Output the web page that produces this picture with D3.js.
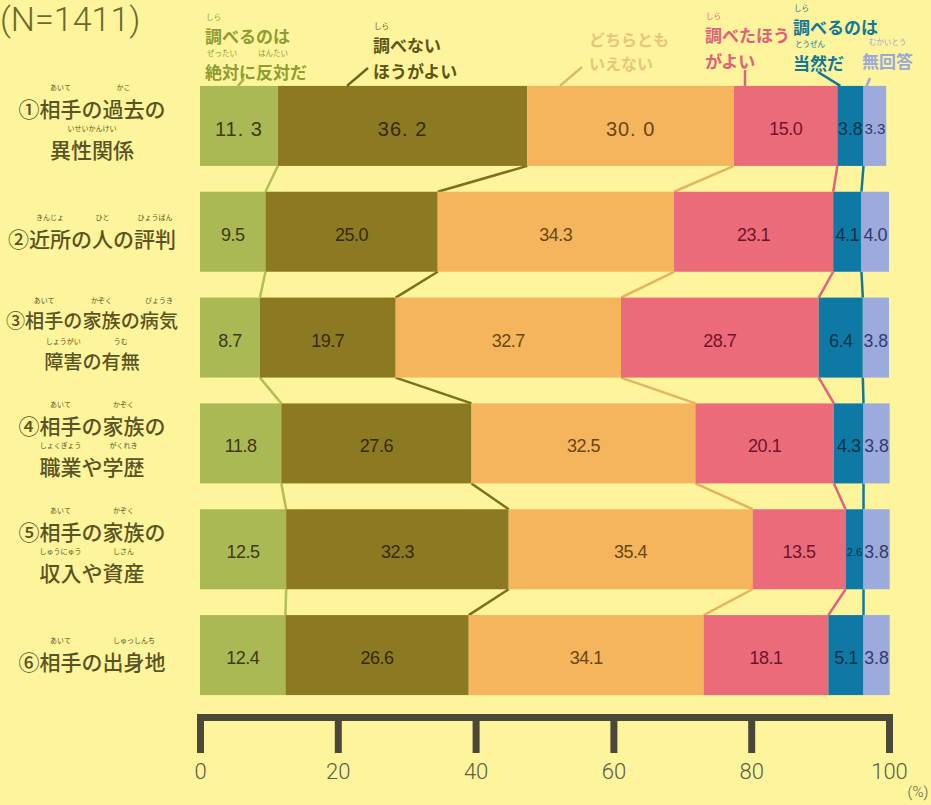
<!DOCTYPE html>
<html><head><meta charset="utf-8">
<script src="https://cdn.jsdelivr.net/npm/d3@7"></script>
<style>
html,body{margin:0;padding:0;background:#fdf49c;}
svg{display:block;}
</style></head><body>
<svg id="chart" width="931" height="805"></svg>
<script>
// ---------- DATA ----------
const sampleLabel = "(N=1411)";
const unitLabel = "(%)";
// {漢字|ふりがな} marks ruby text; \n marks a line break
const categories = [
  "①{相手|あいて}の{過去|かこ}の\n{異性関係|いせいかんけい}",
  "②{近所|きんじょ}の{人|ひと}の{評判|ひょうばん}",
  "③{相手|あいて}の{家族|かぞく}の{病気|びょうき}\n{障害|しょうがい}の{有無|うむ}",
  "④{相手|あいて}の{家族|かぞく}の\n{職業|しょくぎょう}や{学歴|がくれき}",
  "⑤{相手|あいて}の{家族|かぞく}の\n{収入|しゅうにゅう}や{資産|しさん}",
  "⑥{相手|あいて}の{出身地|しゅっしんち}"
];
const seriesNames = [
  "{調|しら}べるのは\n{絶対|ぜったい}に{反対|はんたい}だ",
  "{調|しら}べない\nほうがよい",
  "どちらとも\nいえない",
  "{調|しら}べたほう\nがよい",
  "{調|しら}べるのは\n{当然|とうぜん}だ",
  "{無回答|むかいとう}"
];
const absolutelyAgainst = [11.3, 9.5, 8.7, 11.8, 12.5, 12.4];
const betterNot        = [36.2, 25.0, 19.7, 27.6, 32.3, 26.6];
const cannotSay        = [30.0, 34.3, 32.7, 32.5, 35.4, 34.1];
const betterCheck      = [15.0, 23.1, 28.7, 20.1, 13.5, 18.1];
const naturalCheck     = [3.8, 4.1, 6.4, 4.3, 2.6, 5.1];
const noAnswer         = [3.3, 4.0, 3.8, 3.8, 3.8, 3.8];
const tickValues = [0, 20, 40, 60, 80, 100];

// ---------- STYLE / LAYOUT ----------
const segColors   = ["#abb955", "#8b7a22", "#f4b55c", "#eb6b7a", "#0f79a5", "#9caadc"];
const linkColors  = ["#b2bd5c", "#7f6f1c", "#e6b45f", "#e2637a", "#137898"];
const valueColors = ["#3d3a12", "#352b08", "#6b4512", "#6e1529", "#0b3449", "#2f3c70"];
const legendColors= ["#8f9c32", "#5d5616", "#e8c47c", "#e0617a", "#137897", "#9aa9d8"];
const leaderColors= ["#a9b652", "#6e6418", "#dcb86c", "#e0617a", "#137897", "#9aa9d8"];
const legendLayout = [
  {x: 205, y: 35, fs: 17, lx: 244, ly: 79, bx: 238},
  {x: 373, y: 44, fs: 17, lx: 368, ly: 68, bx: 347},
  {x: 589, y: 39, fs: 16, lx: 582, ly: 67, bx: 560},
  {x: 705, y: 34, fs: 17, lx: 745, ly: 70, bx: 745},
  {x: 793, y: 26, fs: 17, lx: 818, ly: 72, bx: 818},
  {x: 862, y: 60, fs: 17, lx: 870, ly: 78, bx: 862}
];
const JP = "'Noto Sans CJK JP', 'Noto Sans', sans-serif";
const NUM = "'Liberation Sans', Arial, sans-serif";

// ---------- BUILD ----------
const keys = ["a","b","c","d","e","f"];
const seriesArrays = [absolutelyAgainst, betterNot, cannotSay, betterCheck, naturalCheck, noAnswer];
const table = categories.map((c, i) => {
  const o = {cat: c, idx: i};
  keys.forEach((k, j) => o[k] = seriesArrays[j][i]);
  return o;
});
const stacked = d3.stack().keys(keys)(table);

const svg = d3.select("#chart");
svg.append("rect").attr("width", 931).attr("height", 805).attr("fill", "#fdf49c");

const x = d3.scaleLinear().domain([0, 100]).range([200, 889]);
const y = d3.scaleBand().domain(d3.range(categories.length)).range([73, 708])
  .paddingInner(0.244).paddingOuter(0.122);
const bw = y.bandwidth();

// ruby helpers: one <text> block per label, ruby as positioned tspans
function parseRuby(line) {
  const parts = []; const re = /\{([^|}]+)\|([^}]+)\}|([^{]+)/g; let m;
  while ((m = re.exec(line))) {
    if (m[3]) parts.push({t: m[3], r: null}); else parts.push({t: m[1], r: m[2]});
  }
  return parts;
}
function plainLen(line) { return parseRuby(line).reduce((s, p) => s + p.t.length, 0); }
function drawRubyBlock(g, lines, cx, centers, o) {
  const t = g.append("text")
    .attr("text-anchor", o.anchor).attr("dominant-baseline", "central")
    .attr("font-family", JP).attr("font-size", o.fs).attr("font-weight", o.fw || 500)
    .attr("fill", o.color);
  const rubies = [];
  let idx = 0;
  lines.forEach((ln, j) => {
    parseRuby(ln).forEach((p, q) => {
      const ts = t.append("tspan").text(p.t);
      if (q === 0) ts.attr("x", cx).attr("y", centers[j]);
      if (p.r) rubies.push({i0: idx, i1: idx + p.t.length - 1, r: p.r, cy: centers[j]});
      idx += p.t.length;
    });
  });
  const node = t.node();
  const pos = rubies.map(r => {
    try {
      return (node.getStartPositionOfChar(r.i0).x + node.getEndPositionOfChar(r.i1).x) / 2;
    } catch (e) { return null; }
  });
  rubies.forEach((r, k) => {
    if (pos[k] == null) return;
    t.append("tspan").attr("x", pos[k]).attr("y", r.cy - o.fs * o.ro)
      .attr("text-anchor", "middle").attr("font-size", o.rs).attr("font-weight", 400)
      .text(r.r);
  });
  return t;
}

// connecting lines between rows
const linkG = svg.append("g");
for (let k = 0; k < keys.length - 1; k++) {
  for (let i = 0; i < categories.length - 1; i++) {
    linkG.append("line")
      .attr("x1", x(stacked[k][i][1])).attr("y1", y(i) + bw)
      .attr("x2", x(stacked[k][i + 1][1])).attr("y2", y(i + 1))
      .attr("stroke", linkColors[k]).attr("stroke-width", 2.5);
  }
}

// bars
const barG = svg.append("g");
stacked.forEach((s, k) => {
  barG.selectAll(null).data(s).join("rect")
    .attr("x", d => x(d[0])).attr("y", (d, i) => y(i))
    .attr("width", d => x(d[1]) - x(d[0])).attr("height", bw)
    .attr("fill", segColors[k]);
});

// value labels
const valG = svg.append("g");
stacked.forEach((s, k) => {
  s.forEach((d, i) => {
    const v = d[1] - d[0];
    const w = x(d[1]) - x(d[0]);
    const wide = (i === 0 && k < 3);
    let txt = d3.format(".1f")(v);
    if (wide) txt = txt.replace(".", ". ");
    const base = wide ? 20 : 18;
    const t = valG.append("text")
      .attr("x", (x(d[0]) + x(d[1])) / 2).attr("y", y(i) + bw / 2 + 3)
      .attr("text-anchor", "middle").attr("dominant-baseline", "central")
      .attr("font-family", NUM).attr("font-size", base)
      .attr("letter-spacing", wide ? 1 : -0.5)
      .attr("fill", valueColors[k]).text(txt);
    const len = t.node().getComputedTextLength();
    if (len > w - 3) t.attr("font-size", Math.max(8, base * (w - 3) / len)).attr("letter-spacing", 0);
  });
});

// category labels
const catG = svg.append("g");
categories.forEach((c, i) => {
  const lines = c.split("\n");
  const maxChars = d3.max(lines, plainLen);
  const fs = Math.min(21, 172 / maxChars);
  const cy = y(i) + bw / 2;
  const centers = lines.length === 1 ? [cy + 6] : [cy - 18, cy + 23];
  drawRubyBlock(catG, lines, 92, centers,
    {anchor: "middle", fs: fs, rs: 7, ro: 1.0, color: "#5a5424", fw: 500});
});

// legend
const legG = svg.append("g");
seriesNames.forEach((name, k) => {
  const L = legendLayout[k];
  const lines = name.split("\n");
  const centers = [L.y];
  for (let j = 1; j < lines.length; j++)
    centers.push(centers[j - 1] + (parseRuby(lines[j]).some(p => p.r) ? 36 : L.fs * 1.5));
  drawRubyBlock(legG, lines, L.x, centers,
    {anchor: "start", fs: L.fs, rs: 7.5, ro: 1.1, color: legendColors[k], fw: 700});
  const seg = stacked[k][0];
  const bx = Math.max(x(seg[0]) + 3, Math.min(x(seg[1]) - 3, L.bx));
  legG.append("line").attr("x1", L.lx).attr("y1", L.ly).attr("x2", bx).attr("y2", y(0))
    .attr("stroke", leaderColors[k]).attr("stroke-width", 2.5);
});

// sample size
svg.append("text").attr("x", 0).attr("y", 31)
  .attr("font-family", "Roboto, sans-serif").attr("font-weight", 300)
  .attr("font-size", 34).attr("fill", "#6a6a2e").text(sampleLabel);

// axis
const axisG = svg.append("g").attr("transform", "translate(0,717)")
  .call(d3.axisBottom(x).tickValues(tickValues).tickSize(36).tickSizeOuter(0).tickPadding(10));
axisG.select(".domain").attr("stroke", "#4b483a").attr("stroke-width", 7).attr("stroke-linecap", "square");
axisG.selectAll(".tick line").attr("stroke", "#4b483a").attr("stroke-width", 7);
axisG.selectAll(".tick text").attr("font-family", "Roboto, sans-serif").attr("font-weight", 300)
  .attr("font-size", 22).attr("fill", "#5e5c48");
svg.append("text").attr("x", 918).attr("y", 797).attr("text-anchor", "middle")
  .attr("font-family", "Roboto, sans-serif").attr("font-weight", 300)
  .attr("font-size", 15).attr("fill", "#5e5c48").text(unitLabel);
</script>
</body></html>
